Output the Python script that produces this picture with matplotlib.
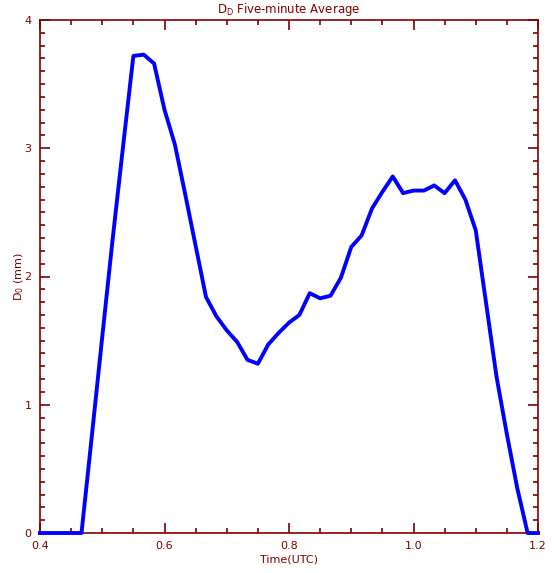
import matplotlib
matplotlib.use("Agg")
import matplotlib.pyplot as plt
from matplotlib.ticker import MultipleLocator

minutes = [24, 25, 26, 27, 28, 29, 30, 31, 32, 33, 34, 35, 36, 37, 38, 39, 40,
           41, 42, 43, 44, 45, 46, 47, 48, 49, 50, 51, 52, 53, 54, 55, 56, 57,
           58, 59, 60, 61, 62, 63, 64, 65, 66, 67, 68, 69, 70, 71, 72]
d0_mm = [0, 0, 0, 0, 0, 0.76, 1.53, 2.29, 3.01, 3.72, 3.73, 3.66, 3.30, 3.03,
         2.64, 2.24, 1.84, 1.69, 1.58, 1.49, 1.35, 1.32, 1.47, 1.56, 1.64, 1.70,
         1.87, 1.83, 1.85, 1.99, 2.23, 2.32, 2.53, 2.66, 2.78, 2.65, 2.67, 2.67,
         2.71, 2.65, 2.75, 2.60, 2.36, 1.79, 1.22, 0.77, 0.35, 0, 0]
time_h = [m / 60.0 for m in minutes]

xticks = [0.4, 0.6, 0.8, 1.0, 1.2]
xticklabels = ["0.4", "0.6", "0.8", "1.0", "1.2"]
yticks = [0, 1, 2, 3, 4]
yticklabels = ["0", "1", "2", "3", "4"]

dark_red = "#800000"
W, H = 554, 573
fig = plt.figure(figsize=(W / 100, H / 100), dpi=100)
ax = fig.add_axes([40 / W, (H - 533) / H, (538 - 40) / W, (533 - 20) / H])

ax.plot(time_h, d0_mm, color="#0000ff", lw=2.8, clip_on=False, zorder=5)

ax.set_xlim(0.4, 1.2)
ax.set_ylim(0, 4)
ax.set_xticks(xticks)
ax.set_xticklabels(xticklabels)
ax.set_yticks(yticks)
ax.set_yticklabels(yticklabels)
ax.xaxis.set_minor_locator(MultipleLocator(0.05))
ax.yaxis.set_minor_locator(MultipleLocator(0.1))

for s in ax.spines.values():
    s.set_color(dark_red)
    s.set_linewidth(1.2)
ax.tick_params(which="both", direction="in", top=True, right=True,
               color=dark_red, labelcolor=dark_red, labelsize=8, width=1.2)
ax.tick_params(which="major", length=7, pad=6)
ax.tick_params(which="minor", length=3.5)

ax.set_title("D$_\\mathrm{D}$ Five-minute Average", color=dark_red, fontsize=8.5, pad=5)
ax.set_xlabel("Time(UTC)", color=dark_red, fontsize=8, labelpad=2)
ax.set_ylabel("D$_\\mathrm{0}$ (mm)", color=dark_red, fontsize=8, labelpad=-1)

fig.savefig("out.png", dpi=100)
